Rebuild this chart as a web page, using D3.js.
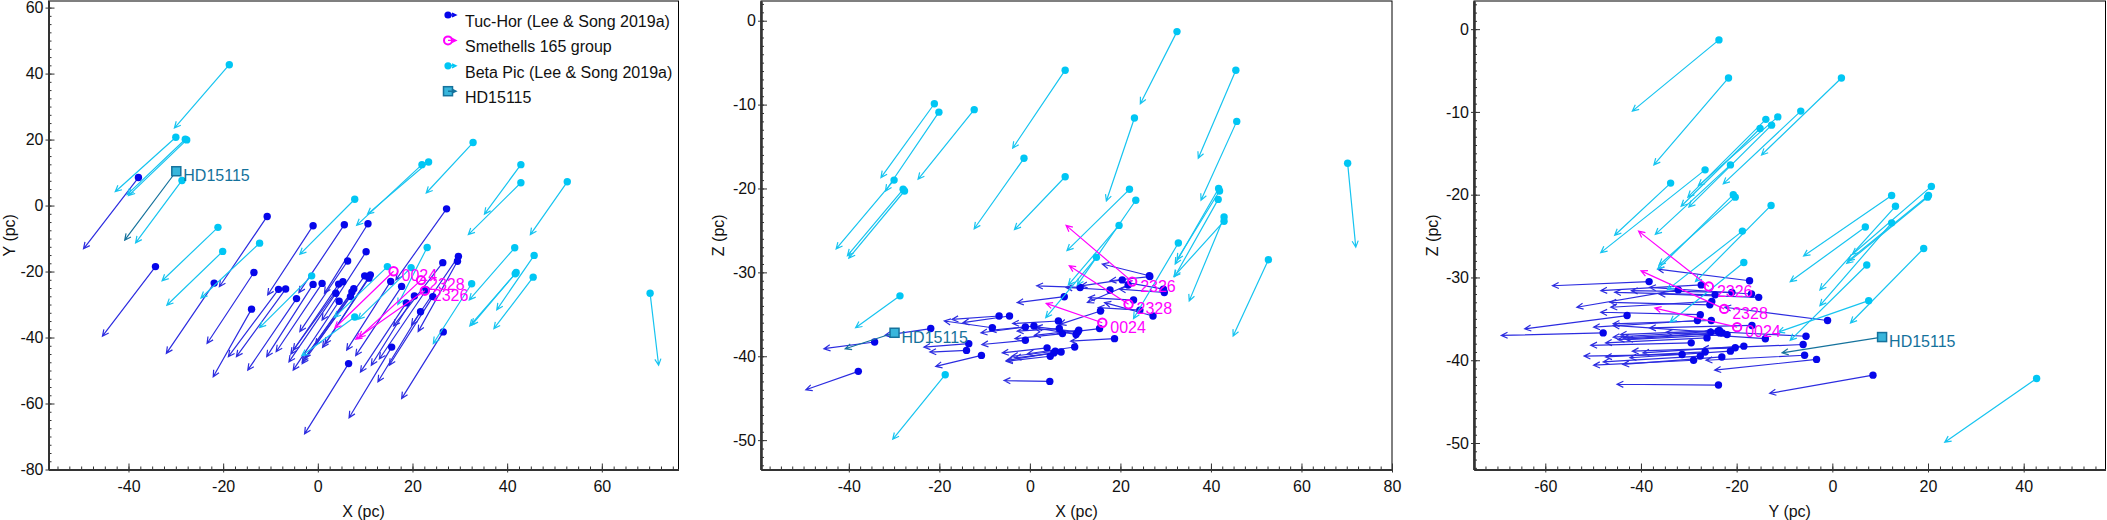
<!DOCTYPE html>
<html>
<head>
<meta charset="utf-8">
<script src="https://cdnjs.cloudflare.com/ajax/libs/d3/7.8.5/d3.min.js"></script>
<style>
  body { margin: 0; background: #fff; }
  text { font-family: "Liberation Sans", Arial, Helvetica, sans-serif; }
</style>
</head>
<body>
<div id="chart"></div>
<script>
// columns: x, y, z (pc) then x, y, z at the arrow tip
var tucHor = [
  [-37.9,   8.5, -41.8, -49.5, -13.1, -44.0],
  [-34.3, -18.5, -38.3, -45.5, -39.6, -39.1],
  [-10.7,  -3.3, -39.9, -20.8, -24.6, -41.2],
  [ -1.0,  -6.1, -38.1, -10.6, -27.1, -38.6],
  [  5.6,  -5.8, -39.4,  -4.0, -26.4, -40.0],
  [ 10.6,  -5.5, -37.1,   1.4, -26.6, -36.5],
  [-13.5, -20.3, -38.5, -23.4, -41.8, -38.9],
  [-21.9, -23.5, -36.7, -32.0, -44.8, -37.5],
  [-14.0, -31.4, -39.3, -22.1, -51.9, -39.5],
  [ -8.3, -25.4, -36.6, -18.9, -45.8, -35.8],
  [ -6.8, -25.3, -35.2, -17.2, -45.8, -35.6],
  [ -4.5, -28.2, -35.2, -14.8, -49.9, -36.0],
  [ -1.0, -23.9, -36.5, -10.8, -45.8, -37.2],
  [  0.9, -23.6, -36.4,  -8.8, -44.3, -36.9],
  [  4.4, -23.8, -43.0,  -5.7, -45.0, -42.9],
  [  5.3, -23.1, -39.6,  -5.2, -43.8, -40.5],
  [  6.3, -16.8, -35.8,  -3.8, -38.2, -36.1],
  [  7.6, -25.2, -32.9,  -2.8, -46.3, -33.6],
  [  7.2, -26.2, -37.3,  -3.3, -47.4, -37.9],
  [  9.9, -21.3, -38.9,  -0.5, -42.3, -39.7],
  [ 10.2, -14.0, -37.4,   0.9, -34.7, -36.6],
  [  4.5, -29.0, -40.0,  -5.2, -49.9, -40.6],
  [  3.8, -26.6, -39.0,  -6.1, -47.4, -39.6],
  [  6.9, -27.6, -39.5,  -3.3, -47.9, -40.2],
  [ 15.4, -23.0, -36.7,   6.1, -43.8, -37.3],
  [ 20.4, -27.4, -30.9,  11.3, -48.4, -31.6],
  [ 21.7, -32.2, -31.5,  12.7, -53.4, -33.6],
  [ 26.4, -17.3, -30.4,  16.0, -36.5, -29.0],
  [ 27.2,  -1.0, -35.2,  16.5, -22.5, -33.6],
  [ 29.7, -15.4, -32.4,  19.8, -36.2, -32.0],
  [ 29.5, -16.9, -32.0,  21.2, -38.2, -31.2],
  [ 26.5, -38.3, -30.5,  17.7, -58.5, -31.0],
  [ 15.6, -42.9, -34.6,   6.6, -64.3, -36.2],
  [  6.5, -47.9, -36.7,  -2.8, -69.2, -37.0],
  [ 11.1, -21.0, -31.8,   1.5, -42.0, -31.6],
  [ 17.7, -24.5, -32.1,   8.0, -45.5, -31.8],
  [ 18.7, -29.5, -37.9,   9.0, -50.5, -38.2],
  [ 22.9, -25.6, -33.3,  13.0, -46.5, -33.0],
  [ 24.3, -27.6, -34.5,  15.1, -48.4, -34.2],
  [ 10.8, -22.0, -36.9,   1.0, -43.0, -37.5]
];

var betaPic = [
  [-18.7,  42.7, -42.2, -30.3,  23.5, -49.9],
  [-30.0,  20.7, -19.0, -42.8,   4.2, -27.2],
  [-28.0,  20.1, -20.1, -40.3,   3.3, -28.0],
  [-27.7,  19.9, -20.3, -40.0,   3.0, -28.3],
  [-28.7,   7.6, -32.8, -38.5, -11.3, -36.6],
  [-21.1,  -6.6,  -9.9, -32.9, -22.8, -18.7],
  [-20.1, -13.9, -10.9, -31.9, -30.2, -20.3],
  [-12.3, -11.4, -10.6, -24.7, -28.0, -18.9],
  [  7.8,   1.9,  -5.9,  -3.8, -14.8, -15.2],
  [ 22.0,  12.4, -20.1,   8.2,  -6.0, -27.4],
  [ 23.4,  13.2, -21.4,  10.5,  -2.6, -31.5],
  [ 32.8,  19.1, -26.5,  22.9,   3.8, -35.5],
  [ 42.9,  12.4, -23.4,  35.2,  -2.6, -33.4],
  [ 42.9,   6.9, -23.9,  31.8,  -8.8, -30.5],
  [ 52.7,   7.2, -28.5,  44.9,  -8.8, -37.6],
  [ 23.1, -12.7, -11.6,  16.9, -30.0, -21.5],
  [ 41.6, -12.8, -21.3,  32.0, -28.6, -30.5],
  [ 45.7, -15.1, -12.0,  37.8, -31.6, -21.4],
  [ 41.7, -20.7, -20.0,  32.1, -36.5, -29.0],
  [ 41.9, -20.3, -20.3,  32.5, -36.2, -28.5],
  [ 45.5, -21.7,  -5.9,  37.2, -37.3, -16.4],
  [ 32.5, -23.7,  -1.3,  24.4, -41.8,  -9.9],
  [ 70.2, -26.6, -17.0,  72.0, -48.4, -27.0],
  [ 14.7, -18.5, -28.2,   3.5, -33.9, -35.4],
  [ 19.7, -18.8, -24.4,   8.5, -34.5, -31.5],
  [ -1.3, -21.3, -16.4, -12.3, -37.0, -24.8],
  [  7.8, -33.8, -18.6,  -3.4, -45.5, -24.9]
];

var smethells = [
  [ 16.0, -19.9, -36.0,   3.6, -37.1, -33.7],
  [ 21.8, -22.6, -33.8,   8.7, -40.0, -29.2],
  [ 22.6, -25.8, -31.1,   8.0, -40.5, -24.4]
];
var smethellsNames = ["0024", "2328", "2326"];

var hd15115 = [[-29.9, 10.4, -37.2, -40.8, -10.5, -39.1]];
var hdNames = ["HD15115"];

var legendNames = ["Tuc-Hor (Lee & Song 2019a)", "Smethells 165 group", "Beta Pic (Lee & Song 2019a)", "HD15115"];

var xTicksA = [-40, -20, 0, 20, 40, 60];
var yTicksA = [60, 40, 20, 0, -20, -40, -60, -80];
var xTicksB = [-40, -20, 0, 20, 40, 60, 80];
var zTicks = [0, -10, -20, -30, -40, -50];
var yTicksC = [-60, -40, -20, 0, 20, 40];

var width = 2107, height = 520,
    plotTop = 1, plotBottom = 469.5;

var blue = "#0606ea", blueLine = "#2c2ce0",
    cyan = "#00c6f4", cyanLine = "#16c4f0",
    magenta = "#ff00ff",
    teal = "#15729c";

var panels = [
  {left: 48.5, right: 678.5, h: 0, v: 1, hDom: [-56.9, 76.2], vDom: [-80, 62.0],
   hTicks: xTicksA, vTicks: yTicksA, hStep: 2.5, vStep: 2.5,
   hTitle: "X (pc)", vTitle: "Y (pc)", vTitleX: 9},
  {left: 761, right: 1392, h: 0, v: 2, hDom: [-59.4, 80], vDom: [-53.5, 2.35],
   hTicks: xTicksB, vTicks: zTicks, hStep: 2.5, vStep: 1,
   hTitle: "X (pc)", vTitle: "Z (pc)", vTitleX: 718},
  {left: 1474, right: 2105.5, h: 1, v: 2, hDom: [-74.9, 57.1], vDom: [-53.2, 3.4],
   hTicks: yTicksC, vTicks: zTicks, hStep: 2.5, vStep: 1,
   hTitle: "Y (pc)", vTitle: "Z (pc)", vTitleX: 1432}
];

var svg = d3.select("#chart").append("svg")
    .attr("width", width)
    .attr("height", height);

function arrowPath(x1, y1, x2, y2, len) {
  var a = Math.atan2(y2 - y1, x2 - x1), s = 0.45;
  return "M" + x1 + "," + y1 + "L" + x2 + "," + y2 +
    "M" + (x2 - len * Math.cos(a - s)) + "," + (y2 - len * Math.sin(a - s)) +
    "L" + x2 + "," + y2 +
    "L" + (x2 - len * Math.cos(a + s)) + "," + (y2 - len * Math.sin(a + s));
}

function styleAxis(g) {
  g.attr("font-family", null).attr("font-size", null);
  g.selectAll("text").style("font-size", "16px").attr("fill", "#111");
  g.selectAll("line").attr("stroke", "#333").attr("stroke-width", 1);
  g.select(".domain").attr("stroke", "#333").attr("stroke-width", 1.8);
}

panels.forEach(function(p, i) {
  var x = d3.scaleLinear().domain(p.hDom).range([p.left, p.right]);
  var y = d3.scaleLinear().domain(p.vDom).range([plotBottom, plotTop]);
  var g = svg.append("g");

  // frame
  g.append("rect")
      .attr("x", p.left).attr("y", plotTop)
      .attr("width", p.right - p.left).attr("height", plotBottom - plotTop)
      .attr("fill", "none").attr("stroke", "#000").attr("stroke-width", 1);

  // minor ticks
  var hMinor = d3.range(Math.ceil(p.hDom[0] / p.hStep) * p.hStep, p.hDom[1], p.hStep);
  var vMinor = d3.range(Math.ceil(p.vDom[0] / p.vStep) * p.vStep, p.vDom[1], p.vStep);
  g.append("g").attr("transform", "translate(0," + plotBottom + ")")
      .call(d3.axisBottom(x).tickValues(hMinor).tickSize(-3).tickSizeOuter(0).tickFormat(""))
      .call(styleAxis);
  g.append("g").attr("transform", "translate(" + p.left + ",0)")
      .call(d3.axisLeft(y).tickValues(vMinor).tickSize(-3).tickSizeOuter(0).tickFormat(""))
      .call(styleAxis);

  // major ticks, crossing the axis
  g.append("g").attr("transform", "translate(0," + plotBottom + ")")
      .call(d3.axisBottom(x).tickValues(p.hTicks).tickSize(3).tickSizeOuter(0).tickFormat(""))
      .call(styleAxis);
  g.append("g").attr("transform", "translate(0," + plotBottom + ")")
      .call(d3.axisBottom(x).tickValues(p.hTicks).tickSizeInner(-6).tickSizeOuter(0).tickPadding(11).tickFormat(d3.format("d")))
      .call(styleAxis);
  g.append("g").attr("transform", "translate(" + p.left + ",0)")
      .call(d3.axisLeft(y).tickValues(p.vTicks).tickSize(3).tickSizeOuter(0).tickFormat(""))
      .call(styleAxis);
  g.append("g").attr("transform", "translate(" + p.left + ",0)")
      .call(d3.axisLeft(y).tickValues(p.vTicks).tickSizeInner(-6).tickSizeOuter(0).tickPadding(5).tickFormat(d3.format("d")))
      .call(styleAxis);
  g.selectAll("text").filter(function() { return this.textContent; })
      .text(function() { return this.textContent.replace("\u2212", "-"); });

  // axis titles
  g.append("text")
      .attr("x", (p.left + p.right) / 2).attr("y", 517)
      .attr("text-anchor", "middle").style("font-size", "16px").attr("fill", "#111")
      .text(p.hTitle);
  g.append("text")
      .attr("transform", "translate(" + p.vTitleX + "," + ((plotTop + plotBottom) / 2) + ") rotate(-90)")
      .attr("dy", "0.35em")
      .attr("text-anchor", "middle").style("font-size", "16px").attr("fill", "#111")
      .text(p.vTitle);

  var h = p.h, v = p.v;
  function drawGroup(data, lineColor, width) {
    var grp = g.append("g");
    grp.selectAll("path").data(data).enter().append("path")
        .attr("d", function(d) { return arrowPath(x(d[h]), y(d[v]), x(d[h + 3]), y(d[v + 3]), 7); })
        .attr("fill", "none").attr("stroke", lineColor).attr("stroke-width", width);
    return grp;
  }

  // Tuc-Hor
  drawGroup(tucHor, blueLine, 1.2)
    .selectAll("circle").data(tucHor).enter().append("circle")
      .attr("cx", function(d) { return x(d[h]); })
      .attr("cy", function(d) { return y(d[v]); })
      .attr("r", 3.7).attr("fill", blue);

  // Beta Pic
  drawGroup(betaPic, cyanLine, 1.2)
    .selectAll("circle").data(betaPic).enter().append("circle")
      .attr("cx", function(d) { return x(d[h]); })
      .attr("cy", function(d) { return y(d[v]); })
      .attr("r", 3.7).attr("fill", cyan);

  // Smethells 165
  var sm = drawGroup(smethells, magenta, 1.2);
  sm.selectAll("circle").data(smethells).enter().append("circle")
      .attr("cx", function(d) { return x(d[h]); })
      .attr("cy", function(d) { return y(d[v]); })
      .attr("r", 4.2).attr("fill", "none").attr("stroke", magenta).attr("stroke-width", 2);
  sm.selectAll("text").data(smethells).enter().append("text")
      .attr("x", function(d) { return x(d[h]) + 8; })
      .attr("y", function(d) { return y(d[v]) + 10; })
      .style("font-size", "16px").attr("fill", magenta)
      .text(function(d, k) { return smethellsNames[k]; });

  // HD15115
  var hd = drawGroup(hd15115, teal, 1.2);
  hd.selectAll("rect").data(hd15115).enter().append("rect")
      .attr("x", function(d) { return x(d[h]) - 4.5; })
      .attr("y", function(d) { return y(d[v]) - 4.5; })
      .attr("width", 9).attr("height", 9)
      .attr("fill", "#38b6dc").attr("stroke", teal).attr("stroke-width", 1.5);
  hd.selectAll("text").data(hd15115).enter().append("text")
      .attr("x", function(d) { return x(d[h]) + 7; })
      .attr("y", function(d) { return y(d[v]) + 10; })
      .style("font-size", "16px").attr("fill", teal)
      .text(function(d, k) { return hdNames[k]; });

  // legend in first panel
  if (i === 0) {
    var leg = g.append("g").attr("transform", "translate(448,15)");
    var colors = [blue, magenta, cyan, teal];
    legendNames.forEach(function(name, k) {
      var row = leg.append("g").attr("transform", "translate(0," + (k * 25.4) + ")");
      if (k === 1) {
        row.append("circle").attr("r", 4).attr("fill", "none")
            .attr("stroke", colors[k]).attr("stroke-width", 2);
      } else if (k === 3) {
        row.append("rect").attr("x", -4.5).attr("y", -4.5).attr("width", 9).attr("height", 9)
            .attr("fill", "#38b6dc").attr("stroke", teal).attr("stroke-width", 1.5);
      } else {
        row.append("circle").attr("r", 3.6).attr("fill", colors[k]);
      }
      row.append("path").attr("d", arrowPath(0, 0, 8, 0, 4.5))
          .attr("fill", "none").attr("stroke", colors[k]).attr("stroke-width", 1.4);
      row.append("text").attr("x", 17).attr("y", 12)
          .style("font-size", "16px").attr("fill", "#111")
          .text(name);
    });
  }
});
</script>
</body>
</html>
